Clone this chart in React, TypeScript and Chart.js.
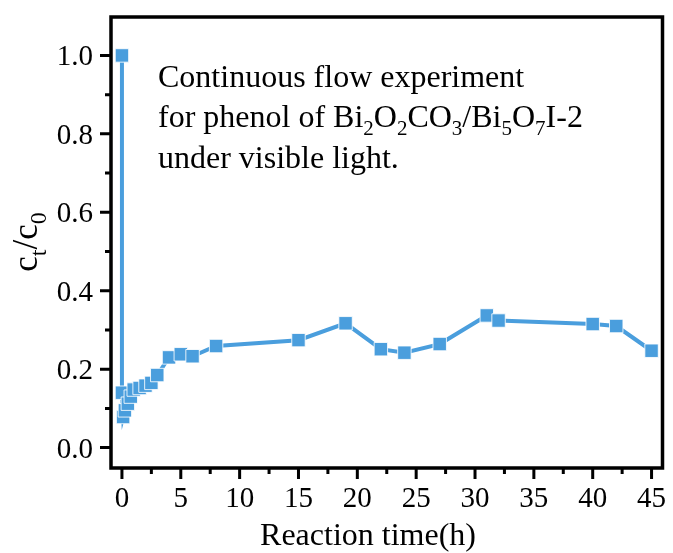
import React, { useEffect, useRef } from "react";
import { Chart, registerables } from "chart.js";

Chart.register(...registerables);

// Data
const timeH = [0, 0, 0.1, 0.25, 0.5, 0.75, 1, 1.5, 2, 2.5, 3, 4, 5, 6, 8, 15, 19, 22, 24, 27, 31, 32, 40, 42, 45];
const ctRatio = [1.0, 0.14, 0.078, 0.095, 0.112, 0.13, 0.148, 0.152, 0.158, 0.165, 0.185, 0.23, 0.238, 0.233, 0.259, 0.274, 0.317, 0.251, 0.242, 0.264, 0.337, 0.324, 0.315, 0.31, 0.247];

const xMajorTicks = [0, 5, 10, 15, 20, 25, 30, 35, 40, 45];
const xMinorTicks = [2.5, 7.5, 12.5, 17.5, 22.5, 27.5, 32.5, 37.5, 42.5];
const yMajorTicks = [0, 0.2, 0.4, 0.6, 0.8, 1.0];
const yMinorTicks = [0.1, 0.3, 0.5, 0.7, 0.9];
const xTickLabels = ["0", "5", "10", "15", "20", "25", "30", "35", "40", "45"];
const yTickLabels = ["0.0", "0.2", "0.4", "0.6", "0.8", "1.0"];

const xTitle = "Reaction time(h)";
const yTitle = [
  { t: "c" },
  { t: "t", sub: true },
  { t: "/c" },
  { t: "0", sub: true },
];
const noteLines = [
  [{ t: "Continuous flow experiment" }],
  [
    { t: "for phenol of Bi" },
    { t: "2", sub: true },
    { t: "O" },
    { t: "2", sub: true },
    { t: "CO" },
    { t: "3", sub: true },
    { t: "/Bi" },
    { t: "5", sub: true },
    { t: "O" },
    { t: "7", sub: true },
    { t: "I-2" },
  ],
  [{ t: "under visible light." }],
];

const SERIF = "'Liberation Serif', 'Times New Roman', serif";
const LINE_COLOR = "#4A9EDD";

type Seg = { t: string; sub?: boolean };

function richWidth(ctx: CanvasRenderingContext2D, segs: Seg[], size: number, subSize: number) {
  let w = 0;
  for (const s of segs) {
    ctx.font = `${s.sub ? subSize : size}px ${SERIF}`;
    w += ctx.measureText(s.t).width;
  }
  return w;
}

function drawRich(
  ctx: CanvasRenderingContext2D,
  segs: Seg[],
  x: number,
  y: number,
  size: number,
  subSize: number,
  subShift: number
) {
  let cx = x;
  ctx.textBaseline = "alphabetic";
  ctx.textAlign = "left";
  for (const s of segs) {
    ctx.font = `${s.sub ? subSize : size}px ${SERIF}`;
    ctx.fillText(s.t, cx, s.sub ? y + subShift : y);
    cx += ctx.measureText(s.t).width;
  }
}

const framePlugin = {
  id: "frameAndText",
  afterDraw(chart: any) {
    const { ctx, chartArea: a, scales } = chart;
    const xs = scales.x;
    const ys = scales.y;
    ctx.save();
    ctx.strokeStyle = "#000";
    ctx.fillStyle = "#000";
    // frame
    ctx.lineWidth = 3.5;
    ctx.lineJoin = "miter";
    ctx.beginPath();
    ctx.rect(a.left, a.top, a.right - a.left, a.bottom - a.top);
    ctx.stroke();
    // ticks
    ctx.lineWidth = 3;
    ctx.lineCap = "butt";
    ctx.beginPath();
    for (const v of xMajorTicks) {
      const px = xs.getPixelForValue(v);
      ctx.moveTo(px, a.bottom);
      ctx.lineTo(px, a.bottom + 11);
    }
    for (const v of xMinorTicks) {
      const px = xs.getPixelForValue(v);
      ctx.moveTo(px, a.bottom);
      ctx.lineTo(px, a.bottom + 6);
    }
    for (const v of yMajorTicks) {
      const py = ys.getPixelForValue(v);
      ctx.moveTo(a.left, py);
      ctx.lineTo(a.left - 11, py);
    }
    for (const v of yMinorTicks) {
      const py = ys.getPixelForValue(v);
      ctx.moveTo(a.left, py);
      ctx.lineTo(a.left - 6, py);
    }
    ctx.stroke();

    // tick labels
    ctx.font = `29px ${SERIF}`;
    ctx.textBaseline = "alphabetic";
    ctx.textAlign = "center";
    xMajorTicks.forEach((v, i) => {
      ctx.fillText(xTickLabels[i], xs.getPixelForValue(v), a.bottom + 39);
    });
    ctx.textAlign = "right";
    yMajorTicks.forEach((v, i) => {
      ctx.fillText(yTickLabels[i], a.left - 18, ys.getPixelForValue(v) + 10);
    });

    // x title
    ctx.font = `32px ${SERIF}`;
    ctx.textAlign = "center";
    ctx.fillText(xTitle, 368, 545);

    // y title (rotated)
    ctx.save();
    ctx.translate(37, 242);
    ctx.rotate(-Math.PI / 2);
    const w = richWidth(ctx, yTitle, 35, 24);
    drawRich(ctx, yTitle, -w / 2, 0, 35, 24, 9);
    ctx.restore();

    // annotation
    const baselines = [87, 127, 168];
    noteLines.forEach((segs, i) => drawRich(ctx, segs, 158, baselines[i], 32, 21, 8));
    ctx.restore();
  },
};

export default function App() {
  const ref = useRef<HTMLCanvasElement | null>(null);

  useEffect(() => {
    document.body.style.margin = "0";
    const canvas = ref.current;
    if (!canvas) return;
    const chart = new Chart(canvas, {
      type: "line",
      data: {
        datasets: [
          {
            data: timeH.map((t, i) => ({ x: t, y: ctRatio[i] })),
            borderColor: LINE_COLOR,
            backgroundColor: LINE_COLOR,
            borderWidth: 4,
            pointStyle: "rect",
            pointRadius: 9.5,
            pointBackgroundColor: LINE_COLOR,
            pointBorderColor: "rgba(255,255,255,0.85)",
            pointBorderWidth: 1,
            tension: 0,
            fill: false,
          },
        ],
      },
      options: {
        animation: false,
        responsive: false,
        maintainAspectRatio: false,
        layout: { padding: { left: 0, top: 17, right: 8, bottom: 0 } },
        plugins: {
          legend: { display: false },
          tooltip: { enabled: false },
          title: { display: false },
        },
        scales: {
          x: {
            type: "linear",
            min: -0.93,
            max: 45.93,
            grid: { display: false, drawTicks: false },
            border: { display: false },
            ticks: { display: false },
            afterFit: (s: any) => {
              s.height = 553 - 468;
            },
          },
          y: {
            type: "linear",
            min: -0.052,
            max: 1.098,
            grid: { display: false, drawTicks: false },
            border: { display: false },
            ticks: { display: false },
            afterFit: (s: any) => {
              s.width = 111;
            },
          },
        },
      },
      plugins: [framePlugin],
    });
    return () => chart.destroy();
  }, []);

  return (
    <div style={{ width: 673, height: 553, background: "#fff" }}>
      <canvas ref={ref} width={673} height={553} style={{ display: "block" }} />
    </div>
  );
}
